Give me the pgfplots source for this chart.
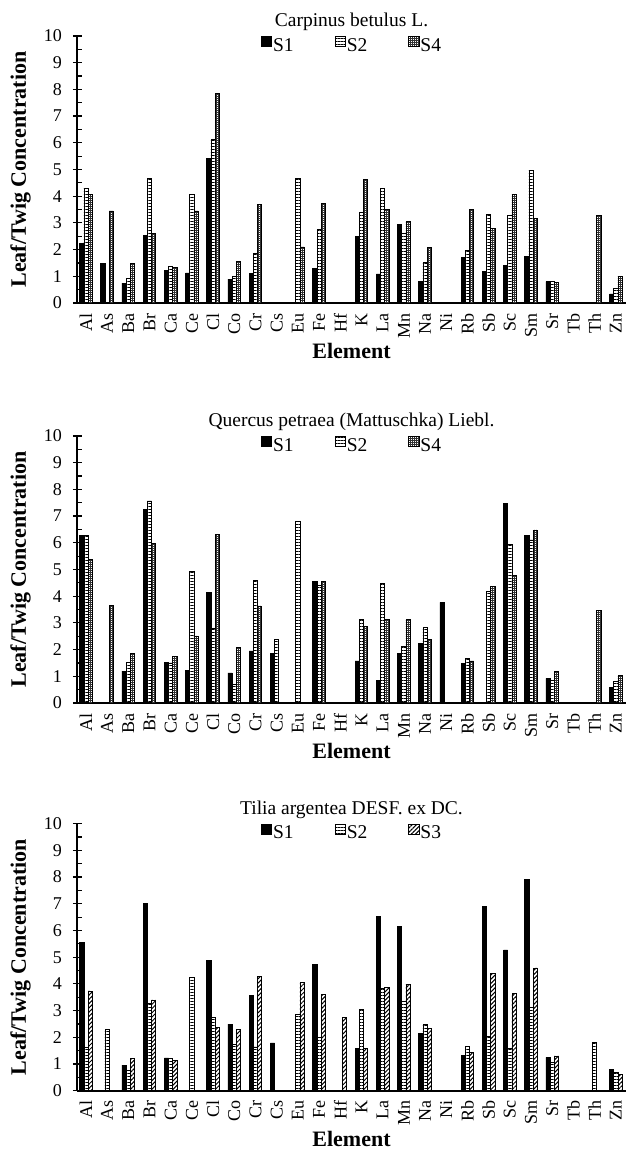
\documentclass[border=0pt]{standalone}
\usepackage{fontspec}
\setmainfont{Liberation Serif}
\usepackage{pgfplots}
\pgfplotsset{compat=1.18}
\usetikzlibrary{patterns,patterns.meta}
\newcommand{\tickfont}{\fontsize{18}{20}\selectfont}
\newcommand{\titfont}{\fontsize{19.5}{21}\selectfont}
\newcommand{\labfont}{\bfseries\fontsize{22}{24}\selectfont}
\pgfplotsset{
  elemaxis/.style={
    scale only axis, width=549pt, height=267pt,
    xmin=-0.42, xmax=25.48, ymin=0, ymax=10,
    axis x line=bottom, axis y line=left,
    axis line style={line width=1.6pt, -},
    ybar=0pt, bar width=4.2pt,
    xtick={0,...,25},
    xticklabels={Al,As,Ba,Br,Ca,Ce,Cl,Co,Cr,Cs,Eu,Fe,Hf,K,La,Mn,Na,Ni,Rb,Sb,Sc,Sm,Sr,Tb,Th,Zn},
    xtick style={draw=none},
    xticklabel style={rotate=90, anchor=east, inner sep=0pt, font=\tickfont},
    xticklabel shift=10pt,
    ytick={0,...,10},
    minor y tick num=1,
    tick align=inside,
    major tick length=9pt, minor tick length=5pt,
    ytick style={line width=1.2pt, black},
    every major y tick/.append style={xshift=-4pt},
    yticklabel style={font=\tickfont, inner sep=0pt},
    yticklabel shift=15pt,
    /pgf/number format/assume math mode=true,
    ylabel={Leaf/Twig Concentration},
    ylabel style={at={(axis description cs:-0.084,0.5)}, anchor=south, inner sep=0pt, font=\labfont},
    xlabel={Element},
    xlabel style={at={(axis description cs:0.5,0)}, anchor=base, yshift=-56pt, font=\labfont},
    title style={at={(axis description cs:0.5,1)}, anchor=base, yshift=3pt, font=\titfont},
    legend columns=3,
    legend style={at={(0.5,1)}, anchor=north, yshift=2pt, draw=none, fill=none, font=\titfont,
      nodes={inner xsep=1pt, inner ysep=1pt},
      /tikz/every even column/.append style={column sep=40pt}},
    legend image code/.code={\draw[#1,line width=0.6pt] (0pt,-1pt) rectangle (10.5pt,9pt);},
  },
  sone/.style={fill=black, draw=black, line width=0.6pt},
  stwo/.style={draw=black, line width=0.6pt, pattern={Lines[angle=0,distance=3pt,line width=1pt]}, pattern color=black},
  sfour/.style={draw=black, line width=0.6pt, pattern={Hatch[angle=0,distance=2pt,line width=0.4pt]}, pattern color=black!80},
  sthree/.style={draw=black, line width=0.6pt, pattern={Lines[angle=45,distance=3pt,line width=1pt]}, pattern color=black},
}
\begin{document}
\begin{tikzpicture}
\useasboundingbox (0,0) rectangle (626pt,1152pt);
% Carpinus betulus
\begin{axis}[elemaxis, at={(77pt,849pt)}, anchor=south west, title={Carpinus betulus L.}]
\addplot[sone] coordinates {(0,2.24) (1,1.49) (2,0.74) (3,2.52) (4,1.22) (5,1.13) (6,5.43) (7,0.89) (8,1.11) (11,1.29) (13,2.48) (14,1.09) (15,2.95) (16,0.81) (18,1.72) (19,1.17) (20,1.40) (21,1.75) (22,0.80) (25,0.34)};
\addplot[stwo] coordinates {(0,4.30) (2,0.91) (3,4.66) (4,1.36) (5,4.06) (6,6.13) (7,0.99) (8,1.85) (10,4.66) (11,2.75) (13,3.38) (14,4.31) (15,2.61) (16,1.52) (18,1.99) (19,3.31) (20,3.28) (21,4.98) (22,0.80) (25,0.55)};
\addplot[sfour] coordinates {(0,4.08) (1,3.45) (2,1.47) (3,2.60) (4,1.32) (5,3.45) (6,7.84) (7,1.55) (8,3.70) (10,2.10) (11,3.73) (13,4.62) (14,3.51) (15,3.07) (16,2.09) (18,3.51) (19,2.80) (20,4.07) (21,3.16) (22,0.76) (24,3.27) (25,1.01)};
\legend{S1,S2,S4}
\end{axis}
% Quercus petraea
\begin{axis}[elemaxis, at={(77pt,449pt)}, anchor=south west, title={Quercus petraea (Mattuschka) Liebl.}]
\addplot[sone] coordinates {(0,6.27) (2,1.19) (3,7.25) (4,1.53) (5,1.21) (6,4.13) (7,1.13) (8,1.95) (9,1.85) (11,4.55) (13,1.58) (14,0.86) (15,1.85) (16,2.23) (17,3.77) (18,1.48) (20,7.49) (21,6.27) (22,0.92) (25,0.57)};
\addplot[stwo] coordinates {(0,6.27) (2,1.54) (3,7.57) (4,1.50) (5,4.94) (6,2.79) (7,0.70) (8,4.58) (9,2.39) (10,6.80) (11,4.40) (13,3.12) (14,4.50) (15,2.13) (16,2.82) (18,1.67) (19,4.18) (20,5.96) (21,6.11) (22,0.86) (25,0.80)};
\addplot[sfour] coordinates {(0,5.37) (1,3.66) (2,1.85) (3,5.98) (4,1.75) (5,2.51) (6,6.32) (7,2.08) (8,3.64) (11,4.55) (13,2.87) (14,3.12) (15,3.12) (16,2.37) (18,1.58) (19,4.38) (20,4.78) (21,6.48) (22,1.17) (24,3.47) (25,1.02)};
\legend{S1,S2,S4}
\end{axis}
% Tilia argentea
\begin{axis}[elemaxis, at={(77pt,61.3pt)}, anchor=south west, title={Tilia argentea DESF. ex DC.}]
\addplot[sone] coordinates {(0,5.55) (2,0.96) (3,7.01) (4,1.23) (6,4.89) (7,2.49) (8,3.57) (9,1.79) (11,4.73) (13,1.58) (14,6.53) (15,6.14) (16,2.16) (18,1.33) (19,6.90) (20,5.27) (21,7.92) (22,1.25) (25,0.80)};
\addplot[stwo] coordinates {(0,1.62) (1,2.30) (2,0.75) (3,3.27) (4,1.23) (5,4.24) (6,2.74) (7,1.73) (8,1.64) (10,2.86) (11,2.01) (13,3.05) (14,3.82) (15,3.36) (16,2.48) (18,1.67) (19,2.04) (20,1.58) (21,3.11) (22,1.05) (24,1.83) (25,0.70)};
\addplot[sthree] coordinates {(0,3.74) (2,1.21) (3,3.40) (4,1.14) (6,2.36) (7,2.31) (8,4.29) (10,4.07) (11,3.61) (12,2.76) (13,1.58) (14,3.86) (15,3.99) (16,2.33) (18,1.43) (19,4.38) (20,3.63) (21,4.60) (22,1.30) (25,0.60)};
\legend{S1,S2,S3}
\end{axis}
\end{tikzpicture}
\end{document}
